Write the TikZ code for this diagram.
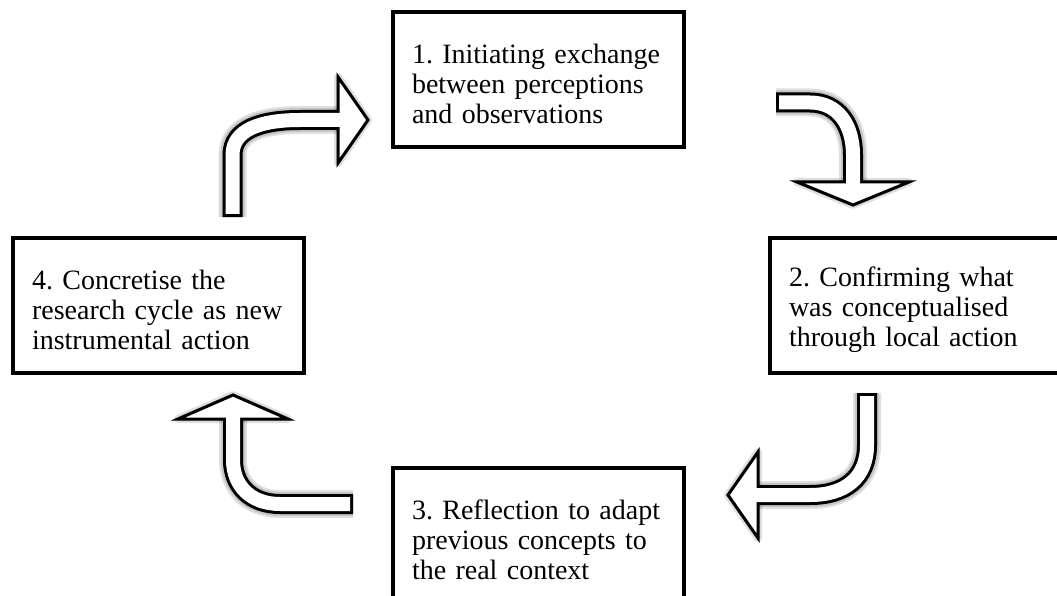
\documentclass[tikz,border=0pt]{standalone}
\usepackage{fontspec}
\setmainfont{Liberation Serif}
\usetikzlibrary{positioning}
\frenchspacing

% block arrow: #1 shaft path (tail first), #2 head path
\newcommand{\bentarrow}[2]{%
  \begin{scope}[shift={(3,4)}]
    \foreach \w/\h in {28/8,24/4,20/0}{
      \draw[arrowshadow,line width=\w pt] #1;
      \filldraw[arrowshadow,line width=\h pt] #2;
    }
  \end{scope}
  \draw[shaftline] #1;
  \filldraw[headline] #2;
  \draw[shaftfill] #1;
}

\begin{document}
\begin{tikzpicture}
  [x=1pt,y=-1pt,
  stagebox/.style={draw,line width=3.8pt,outer sep=0pt,anchor=north west,
    minimum width=291pt,minimum height=135pt,text width=253pt,inner xsep=19pt,
    align=left,font=\fontsize{28}{30}\selectfont,
    execute at begin node={\rule{0pt}{29pt}}},
  arrowshadow/.style={black,opacity=0.12,line join=round},
  shaftline/.style={black,line width=20pt},
  shaftfill/.style={white,line width=14pt,shorten <=3pt,shorten >=-5pt},
  headline/.style={fill=white,draw=black,line width=3pt,line join=miter}]

  \useasboundingbox (0,0) rectangle (1057,596);
  \clip (0,0) rectangle (1057,596);

  \node [stagebox](s1) at (393,12)  {1. Initiating exchange\\between perceptions\\and observations};
  \node [stagebox](s2) at (770,238) {2. Confirming what\\was conceptualised\\through local action};
  \node [stagebox](s3) at (393,468) {3. Reflection to adapt\\previous concepts to\\the real context};
  \node [stagebox](s4) at (13,238)  {4. Concretise the\\research cycle as new\\instrumental action};

  % arrow ends
  \coordinate (t41) at (232.5,217); \coordinate (b41) at (338,120); \coordinate (p41) at (368,120);
  \coordinate (t12) at (776,102.5); \coordinate (b12) at (853,182); \coordinate (p12) at (853,205);
  \coordinate (t23) at (867,393);   \coordinate (b23) at (758,495); \coordinate (p23) at (728,495);
  \coordinate (t34) at (353,504);   \coordinate (b34) at (233,419); \coordinate (p34) at (233,395);

  \bentarrow{(t41) -- ++(0,-62) .. controls +(0,-25) and +(-40,0) .. ++(67.5,-35) -- (b41)}
            {(p41) -- ++(-30,-43) -- ++(0,86) -- cycle}
  \bentarrow{(t12) -- ++(34,0) .. controls +(28,0) and +(0,-30) .. ++(43,52.5) -- (b12)}
            {(p12) -- ++(-56,-23) -- ++(112,0) -- cycle}
  \bentarrow{(t23) -- ++(0,52) .. controls +(0,33) and +(35,0) .. ++(-57,50) -- (b23)}
            {(p23) -- ++(30,-43) -- ++(0,86) -- cycle}
  \bentarrow{(t34) -- ++(-73,0) .. controls +(-30,0) and +(0,25) .. ++(-47,-44) -- (b34)}
            {(p34) -- ++(-55,24) -- ++(110,0) -- cycle}

\end{tikzpicture}
\end{document}
